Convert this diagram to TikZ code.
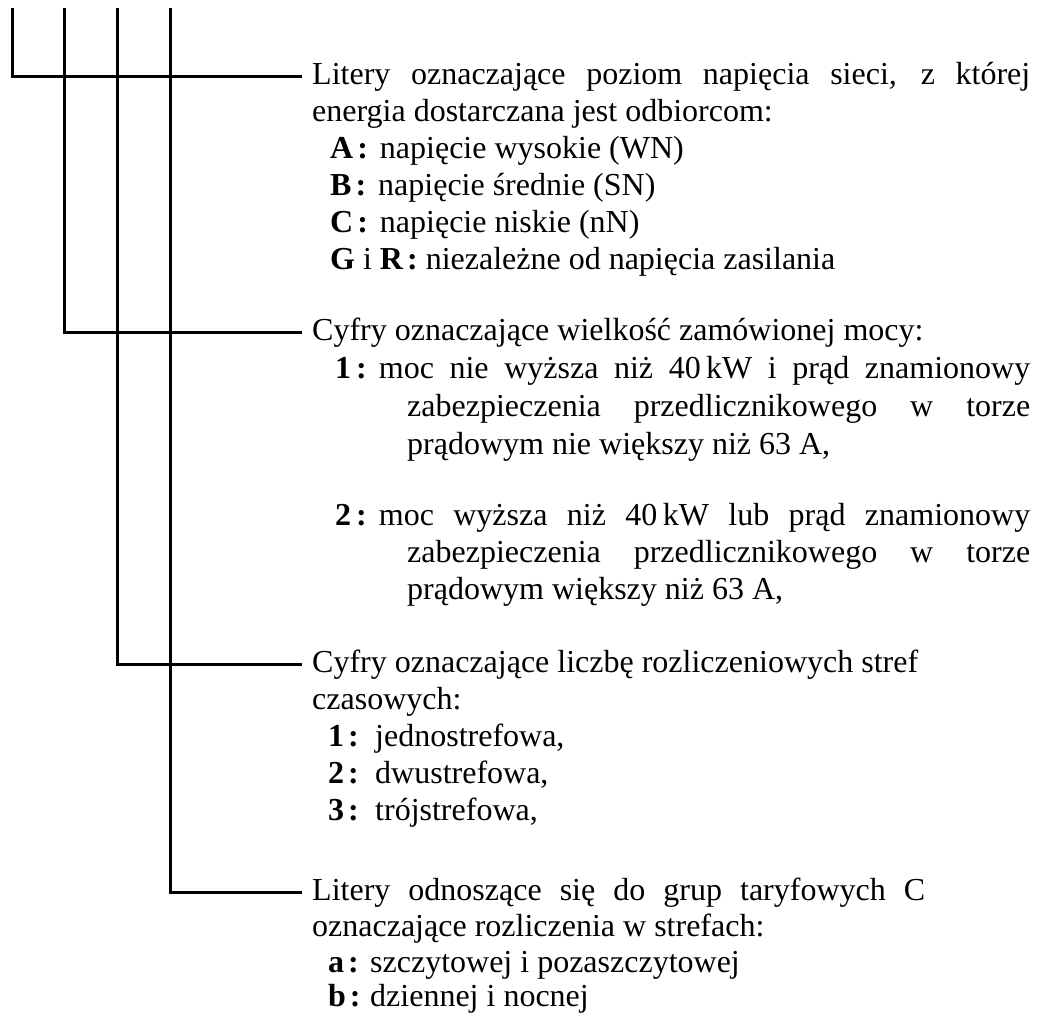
\documentclass[tikz,border=0pt]{standalone}
\usepackage{fontspec}
\setmainfont{Liberation Serif}
\usetikzlibrary{positioning}
\tikzset {
  rail/.style = {draw, line width=3pt, color=black},
  txt/.style = {anchor=base west, inner sep=0pt, font=\fontsize{32}{37}\selectfont, text height=22.4pt, text depth=8pt},
  head/.style = {txt, inner xsep=10pt},
}

\begin{document}
\begin{tikzpicture}[x=1pt, y=-1pt]
    \useasboundingbox (0,0) rectangle (1041,1015);

    % napiecie
    \node[head] (lit) at (302,84) {\makebox[718pt][s]{Litery oznaczające poziom napięcia sieci, z której}};
    \node[txt] (ene) at (312,121) {energia dostarczana jest odbiorcom:};
    \node[txt] (wn) at (330,158) {\textbf{A\kern4pt:}\hspace{12pt}napięcie wysokie (WN)};
    \node[txt] (sn) at (330,195) {\textbf{B\kern4pt:}\hspace{12pt}napięcie średnie (SN)};
    \node[txt] (nn) at (330,232) {\textbf{C\kern4pt:}\hspace{12pt}napięcie niskie (nN)};
    \node[txt] (gr) at (330,269) {\textbf{G} i \textbf{R\kern4pt:} niezależne od napięcia zasilania};

    % moc
    \node[head] (moc) at (302,340) {Cyfry oznaczające wielkość zamówionej mocy:};
    \node[txt] (m1a) at (335,378) {\makebox[695pt][s]{\textbf{1\kern5pt:}\hspace{12pt}moc nie wyższa niż 40\,kW i prąd znamionowy}};
    \node[txt] (m1b) at (407,416) {\makebox[623pt][s]{zabezpieczenia przedlicznikowego w torze}};
    \node[txt] (m1c) at (407,454) {prądowym nie większy niż 63 A,};
    \node[txt] (m2a) at (335,525) {\makebox[695pt][s]{\textbf{2\kern5pt:}\hspace{12pt}moc wyższa niż 40\,kW lub prąd znamionowy}};
    \node[txt] (m2b) at (407,562) {\makebox[623pt][s]{zabezpieczenia przedlicznikowego w torze}};
    \node[txt] (m2c) at (407,599) {prądowym większy niż 63 A,};

    % strefy
    \node[head] (str) at (302,672) {Cyfry oznaczające liczbę rozliczeniowych stref};
    \node[txt] (czas) at (312,709) {czasowych:};
    \node[txt] (s1) at (328,746) {\makebox[47pt][l]{\textbf{1\kern4pt:}}jednostrefowa,};
    \node[txt] (s2) at (328,783) {\makebox[47pt][l]{\textbf{2\kern4pt:}}dwustrefowa,};
    \node[txt] (s3) at (328,820) {\makebox[47pt][l]{\textbf{3\kern4pt:}}trójstrefowa,};

    % taryfy C
    \node[head] (tar) at (302,900) {\makebox[613pt][s]{Litery odnoszące się do grup taryfowych C}};
    \node[txt] (ozn) at (312,936) {oznaczające rozliczenia w strefach:};
    \node[txt] (ta) at (328,972) {\makebox[42pt][l]{\textbf{a\kern4pt:}}szczytowej i pozaszczytowej};
    \node[txt] (tb) at (328,1006) {\makebox[42pt][l]{\textbf{b\kern4pt:}}dziennej i nocnej};

    \coordinate (top1) at (12,8);
    \coordinate (top2) at (64,8);
    \coordinate (top3) at (117,8);
    \coordinate (top4) at (170,8);

    \draw[rail] (top1) |- (lit.west);
    \draw[rail] (top2) |- (moc.west);
    \draw[rail] (top3) |- (str.west);
    \draw[rail] (top4) |- (tar.west);

\end{tikzpicture}
\end{document}
